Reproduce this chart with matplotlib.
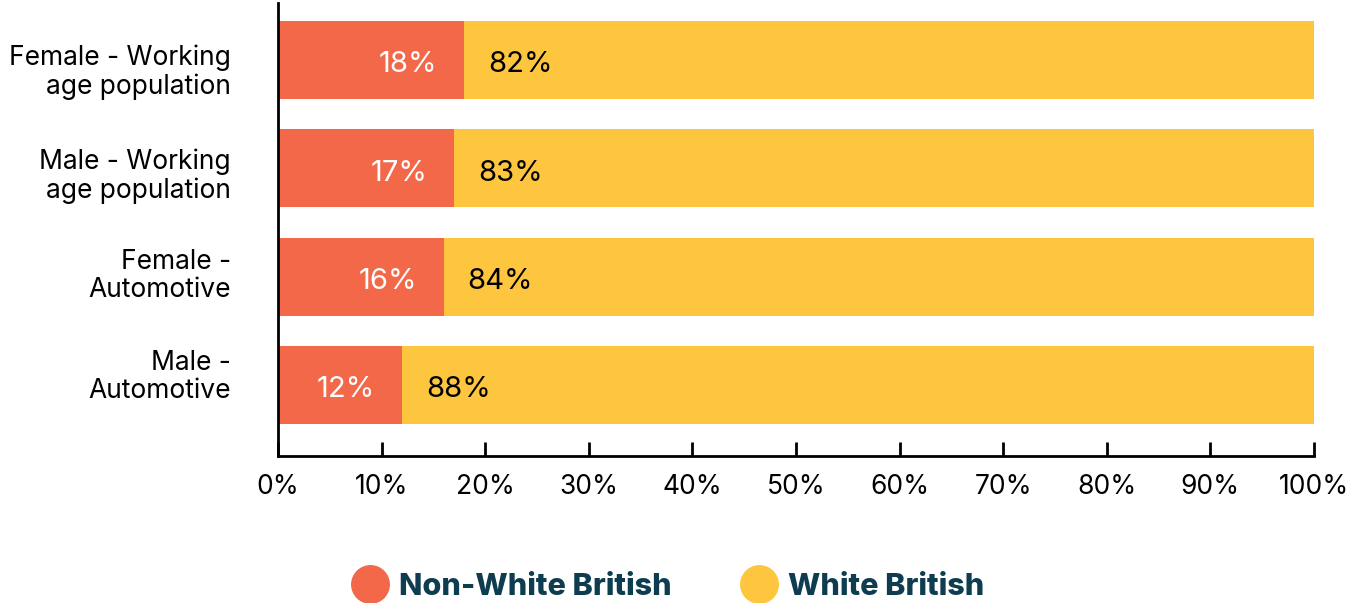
import matplotlib
matplotlib.use("Agg")
import matplotlib.pyplot as plt
from matplotlib.lines import Line2D
from matplotlib.transforms import ScaledTranslation

categories = ["Female - Working\nage population", "Male - Working\nage population",
              "Female -\nAutomotive", "Male -\nAutomotive"]
non_white = [18, 17, 16, 12]
white = [82, 83, 84, 88]
series_names = ["Non-White British", "White British"]
xticks = [0, 10, 20, 30, 40, 50, 60, 70, 80, 90, 100]

ORANGE = "#F26849"
YELLOW = "#FEC53E"
NAVY = "#0E3D50"

plt.rcParams["font.family"] = ["Inter", "DejaVu Sans"]

fig = plt.figure(figsize=(13.53, 6.03), dpi=100)
ax = fig.add_axes([278 / 1353, 1 - 456 / 603, (1314 - 278) / 1353, (456 - 3) / 603])

y = list(range(len(categories)))
ax.barh(y, non_white, height=0.72, color=ORANGE, zorder=2)
ax.barh(y, white, left=non_white, height=0.72, color=YELLOW, zorder=2)

for i, (a, b) in enumerate(zip(non_white, white)):
    ax.text(a - 2.6, i + 0.045, f"{a}%", ha="right", va="center", color="white",
            fontsize=21)
    ax.text(a + 2.3, i + 0.045, f"{b}%", ha="left", va="center", color="black",
            fontsize=21)

ax.set_ylim(3.657, -0.526)
ax.set_xlim(0, 100)
ax.set_yticks(y)
ax.set_yticklabels(categories, fontsize=19, linespacing=1.12)
ax.set_xticks(xticks)
ax.set_xticklabels([f"{t}%" for t in xticks], fontsize=19)
ax.tick_params(axis="y", length=0, pad=34)
ax.tick_params(axis="x", direction="in", length=10, width=2, pad=13)

# category labels sit on an even vertical rhythm, nudged slightly off the bar centres
label_shift_px = [-8.5, -4, 5, 12]
for lbl, dy in zip(ax.get_yticklabels(), label_shift_px):
    lbl.set_horizontalalignment("right")
    lbl.set_transform(lbl.get_transform() + ScaledTranslation(0, dy / 100, fig.dpi_scale_trans))

for s in ["top", "right"]:
    ax.spines[s].set_visible(False)
ax.spines["left"].set_linewidth(2)
ax.spines["bottom"].set_linewidth(2)

handles = [Line2D([], [], marker="o", linestyle="none", markersize=27,
                  markerfacecolor=c, markeredgecolor=c) for c in (ORANGE, YELLOW)]
leg = fig.legend(handles, series_names, loc="center", bbox_to_anchor=(0.494, 1 - 587 / 603),
                 ncol=2, frameon=False, fontsize=22, handletextpad=0.4, columnspacing=2.3,
                 handlelength=1.1)
for t in leg.get_texts():
    t.set_color(NAVY)
    t.set_fontweight("heavy")

fig.savefig("out.png", dpi=100)
